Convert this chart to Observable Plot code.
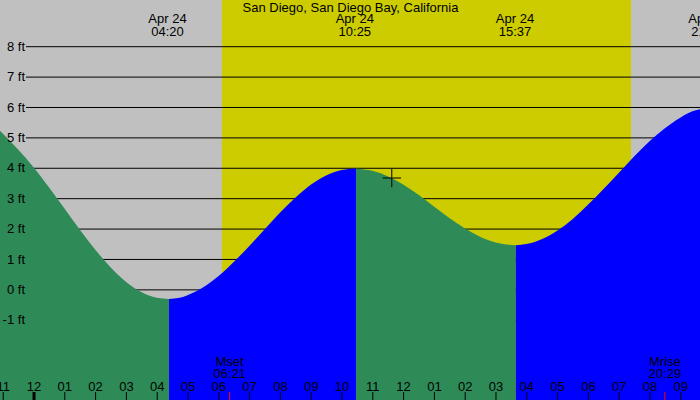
<!DOCTYPE html>
<html><head><meta charset="utf-8">
<script src="https://cdn.jsdelivr.net/npm/d3@7"></script>
<script src="https://cdn.jsdelivr.net/npm/@observablehq/plot@0.6"></script>
<style>html,body{margin:0;padding:0;background:#c0c0c0;overflow:hidden;}</style>
</head><body><div id="chart"></div>
<script>
const title = "San Diego, San Diego Bay, California";
const dateLabel = "Apr 24";
// hours since Apr 24 00:00 and tide height (ft)
const tideHours = [-1.09, -0.5, 0, 0.5, 1, 1.5, 2, 2.5, 3, 3.5, 4, 4.40, 4.75, 5, 5.5, 6, 6.5, 7, 7.5, 8, 8.5, 9, 9.5, 10, 10.47, 11, 11.5, 12, 12.5, 13, 13.5, 14, 14.5, 15, 15.66, 16, 16.5, 17, 17.5, 18, 18.5, 19, 19.5, 20, 20.5, 21, 21.5, 21.867];
const tideFeet = [5.22, 4.60, 4.02, 3.36, 2.67, 1.97, 1.31, 0.73, 0.25, -0.09, -0.28, -0.32, -0.28, -0.19, 0.06, 0.43, 0.90, 1.42, 1.97, 2.52, 3.01, 3.44, 3.75, 3.93, 3.98, 3.90, 3.72, 3.45, 3.11, 2.73, 2.35, 2.01, 1.73, 1.54, 1.45, 1.49, 1.65, 1.93, 2.31, 2.78, 3.29, 3.83, 4.37, 4.87, 5.30, 5.65, 5.89, 5.95];
// where the fill colour changes (turn of the tide)
const turnHours = [4.40, 10.47, 15.66];
const extremeTimes = ["04:20", "10:25", "15:37", "21:52"];
const sunrise = "06:07", sunset = "19:24";
const moonNames = ["Mset", "Mrise"];
const moonTimes = ["06:21", "20:29"];
const nowTime = "11:37", nowFeet = 3.68;
const hourTicks = d3.range(-1, 22);
const feetTicks = d3.range(-1, 9);
const xDomain = [-1.088, 21.64];
const yDomain = [-3.64, 9.52];

const toH = s => { const [h, m] = s.split(":").map(Number); return h + m / 60; };
const pts = tideHours.map((t, i) => ({t, h: tideFeet[i]}));
const bounds = [-100, ...turnHours, 100];
const segments = [];
for (let k = 0; k < bounds.length - 1; k++) {
  const seg = pts.filter(p => p.t >= bounds[k] - 0.001 && p.t <= bounds[k + 1] + 0.001);
  if (seg.length > 1) segments.push(seg);
}
const hourFmt = h => { const v = ((h % 12) + 12) % 12; return String(v === 0 ? 12 : v).padStart(2, "0"); };
const font = "Liberation Sans, Arial, sans-serif";

const marks = [
  Plot.frame({fill: "#c0c0c0", stroke: null}),
  Plot.rect([{a: toH(sunrise), b: toH(sunset)}], {x1: "a", x2: "b", fill: "#cccc00"}),
  Plot.ruleY(feetTicks, {y: d => d, stroke: "black", strokeWidth: 1, insetLeft: 26}),
  ...segments.map(seg => Plot.areaY(seg, {
    x: "t", y1: () => yDomain[0], y2: "h", curve: "monotone-x",
    fill: seg[0].h > seg[seg.length - 1].h ? "#2e8b57" : "#0000ff"
  })),
  Plot.text(feetTicks, {y: d => d, text: d => `${d} ft`, frameAnchor: "left", textAnchor: "end", dx: 24.5, fontSize: 13, fill: "black"}),
  Plot.text([title], {text: d => d, frameAnchor: "top", lineAnchor: "top", dy: 2.5, fontSize: 13, fill: "black"}),
  Plot.text(extremeTimes, {x: d => toH(d), text: d => `${dateLabel}\n${d}`, frameAnchor: "top", lineAnchor: "top", dy: 14, lineHeight: 0.96, fontSize: 13, fill: "black"}),
  Plot.dot([{t: toH(nowTime), h: nowFeet}], {x: "t", y: "h", symbol: "plus", r: 6, stroke: "black", strokeWidth: 1}),
  Plot.tickX(hourTicks, {x: d => d, insetTop: 392, stroke: "black", strokeWidth: d => d === 0 ? 3 : 1}),
  Plot.tickX(moonTimes, {x: d => toH(d), insetTop: 392, stroke: "red", strokeWidth: 1}),
  Plot.text(hourTicks, {x: d => d, text: hourFmt, frameAnchor: "bottom", lineAnchor: "middle", dy: -14, fontSize: 13, fill: "black"}),
  Plot.text(moonTimes, {x: d => toH(d), text: (d, i) => `${moonNames[i]}\n${d}`, frameAnchor: "bottom", lineAnchor: "top", dy: -43, lineHeight: 0.93, fontSize: 13, fill: "black"})
];

const chart = Plot.plot({
  width: 700, height: 400,
  marginTop: 0, marginRight: 0, marginBottom: 0, marginLeft: 0,
  x: {type: "linear", domain: xDomain, axis: null},
  y: {type: "linear", domain: yDomain, axis: null},
  style: {fontFamily: font, fontSize: "13px", background: "#c0c0c0", color: "black"},
  marks
});
document.getElementById("chart").appendChild(chart);
</script>
</body></html>
